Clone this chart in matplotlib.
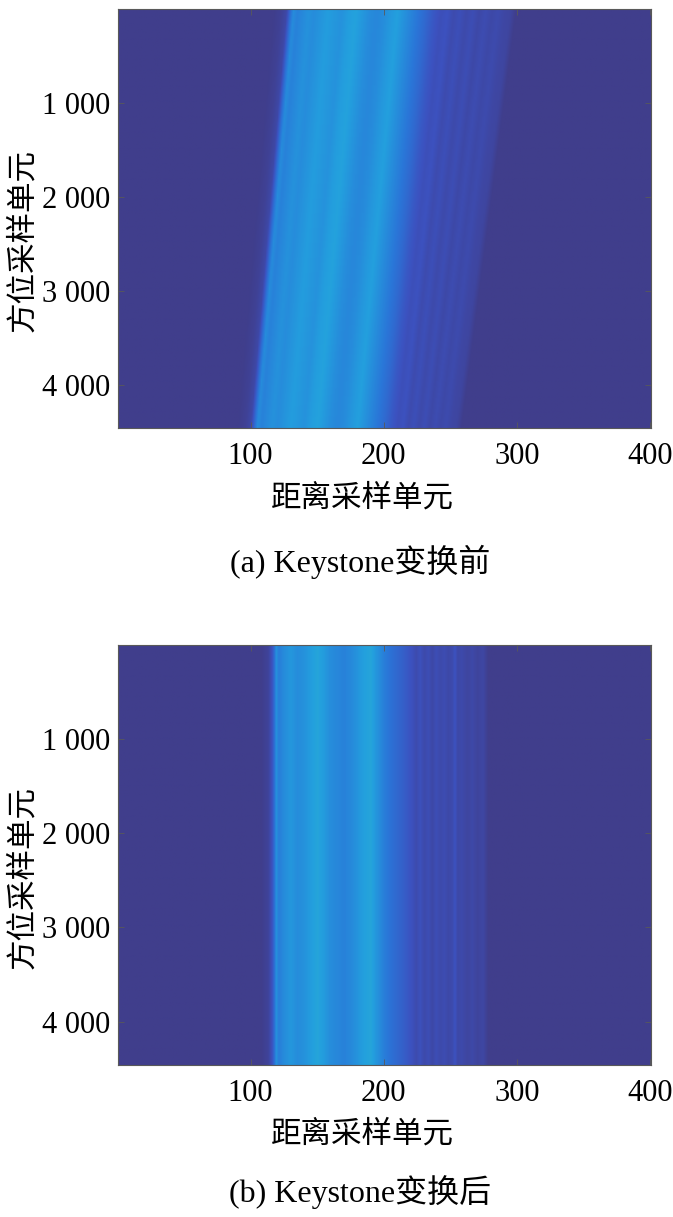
import numpy as np
import matplotlib.pyplot as plt
from matplotlib.colors import LinearSegmentedColormap

# 距离向强度剖面（读图估计，0~1），a 图以最底行为基准
range_a = [90, 96, 100, 103, 105, 108, 112, 116, 120, 125, 130, 135, 140, 145, 150,
           155, 160, 165, 170, 175, 180, 185, 190, 195, 200, 205, 210, 214, 218,
           222, 226, 230, 234, 238, 242, 246, 250, 254, 258]
level_a = [0.0, 0.03, 0.08, 0.28, 0.38, 0.34, 0.37, 0.40, 0.38, 0.41, 0.44, 0.42, 0.40, 0.44, 0.46,
           0.42, 0.38, 0.36, 0.38, 0.42, 0.45, 0.40, 0.35, 0.30, 0.25, 0.18, 0.13, 0.15, 0.10,
           0.13, 0.09, 0.12, 0.08, 0.11, 0.08, 0.10, 0.07, 0.06, 0.0]
# a 图顶行相对底行的距离偏移（左沿、亮带右沿、条纹右沿）
shift_pos_a = [103, 200, 253]
shift_val_a = [27, 31, 41]

# b 图（Keystone 变换后，无走动）
range_b = [108, 113, 116, 118, 119, 121, 125, 130, 135, 140, 145, 150, 155, 160, 165,
           170, 175, 180, 185, 190, 195, 200, 205, 210, 215, 220, 224, 227, 230, 233,
           236, 239, 242, 245, 248, 251, 253, 255, 258, 262, 266, 270, 274, 278]
level_b = [0.0, 0.04, 0.15, 0.30, 0.40, 0.33, 0.38, 0.42, 0.38, 0.40, 0.44, 0.47, 0.43, 0.38, 0.36,
           0.34, 0.37, 0.41, 0.45, 0.47, 0.40, 0.33, 0.28, 0.24, 0.20, 0.15, 0.10, 0.14, 0.09, 0.12,
           0.08, 0.12, 0.09, 0.11, 0.08, 0.10, 0.15, 0.08, 0.09, 0.06, 0.08, 0.05, 0.07, 0.0]

n_range = 400
n_azimuth = 4460
x_ticks = [100, 200, 300, 400]
y_ticks = [1000, 2000, 3000, 4000]
y_ticklabels = ['1 000', '2 000', '3 000', '4 000']
captions = ['(a) Keystone变换前', '(b) Keystone变换后']

# 印刷版 parula 色调
cmap = LinearSegmentedColormap.from_list('parula_print', [
    (0.00, (64/255, 62/255, 140/255)),
    (0.15, (60/255, 82/255, 192/255)),
    (0.30, (42/255, 118/255, 216/255)),
    (0.45, (35/255, 160/255, 222/255)),
    (0.60, (55/255, 192/255, 190/255)),
    (0.75, (135/255, 206/255, 110/255)),
    (0.90, (222/255, 216/255, 62/255)),
    (1.00, (245/255, 235/255, 40/255)),
])

cols = np.arange(1, n_range + 1)
rows = np.linspace(0, n_azimuth, 447)


def make_image(rng, lev, shift_pos=None, shift_val=None):
    base = np.interp(cols, rng, lev, left=0, right=0)
    img = np.zeros((len(rows), n_range))
    for i, r in enumerate(rows):
        if shift_pos is None:
            img[i] = base
        else:
            t = 1 - r / n_azimuth
            xs = cols + t * np.interp(cols, shift_pos, shift_val)
            img[i] = np.interp(cols, xs, base, left=0, right=0)
    return img


images = [make_image(range_a, level_a, shift_pos_a, shift_val_a),
          make_image(range_b, level_b)]

serif = ['Liberation Serif', 'Noto Sans CJK SC']
cjk = ['Noto Sans CJK SC', 'DejaVu Sans']

fig = plt.figure(figsize=(6.73, 12.17), dpi=100)
boxes = [[0.1753, 0.6483, 0.792, 0.3443], [0.1753, 0.1249, 0.792, 0.3451]]
cap_y = [-0.320, -0.302]
xlab_y = [-0.131, -0.128]

for k in range(2):
    ax = fig.add_axes(boxes[k])
    ax.imshow(images[k], cmap=cmap, vmin=0, vmax=1, aspect='auto', interpolation='bilinear',
              extent=(0.5, n_range + 0.5, n_azimuth, 0.5))
    ax.set_xticks(x_ticks)
    ax.set_xticklabels([str(v) for v in x_ticks], family=serif, fontsize=22)
    ax.set_yticks(y_ticks)
    ax.set_yticklabels(y_ticklabels, family=serif, fontsize=22)
    ax.tick_params(direction='in', length=4, width=0.6, color='0.35', top=True, right=True)
    ax.tick_params(axis='x', pad=10)
    ax.tick_params(axis='y', pad=5.5)
    for s in ax.spines.values():
        s.set_color('0.35')
        s.set_linewidth(0.8)
    ax.set_xlabel('距离采样单元', family=cjk, fontsize=22)
    ax.xaxis.set_label_coords(0.458, xlab_y[k])
    ax.set_ylabel('方位采样单元', family=cjk, fontsize=22)
    ax.yaxis.set_label_coords(-0.150, 0.447)
    ax.text(0.454, cap_y[k], captions[k], transform=ax.transAxes, ha='center', va='center',
            family=serif, fontsize=23)

fig.savefig('out.png', dpi=100)
